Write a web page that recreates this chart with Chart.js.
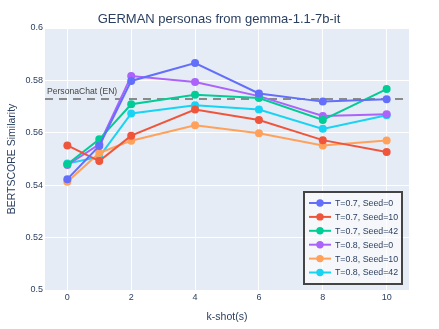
<!DOCTYPE html>
<html>
<head>
<meta charset="utf-8">
<script src="https://cdn.jsdelivr.net/npm/chart.js@4"></script>
<style>
  html, body { margin: 0; padding: 0; background: #fff; }
  #wrap { width: 439px; height: 329px; }
</style>
</head>
<body>
<div id="wrap"><canvas id="chart"></canvas></div>
<script>
// k-shot values on the x axis
const shots = [0, 1, 2, 4, 6, 8, 10];
const xTicks = [0, 2, 4, 6, 8, 10];
const yTicks = [0.5, 0.52, 0.54, 0.56, 0.58, 0.6];

const seriesNames = [
    'T=0.7, Seed=0', 'T=0.7, Seed=10', 'T=0.7, Seed=42',
    'T=0.8, Seed=0', 'T=0.8, Seed=10', 'T=0.8, Seed=42'
];
const t07seed0  = [0.5423, 0.5550, 0.5798, 0.5866, 0.5750, 0.5719, 0.5728];
const t07seed10 = [0.5552, 0.5492, 0.5589, 0.5689, 0.5649, 0.5572, 0.5527];
const t07seed42 = [0.5480, 0.5575, 0.5709, 0.5745, 0.5733, 0.5649, 0.5767];
const t08seed0  = [0.5477, 0.5556, 0.5817, 0.5794, 0.5740, 0.5664, 0.5671];
const t08seed10 = [0.5413, 0.5523, 0.5570, 0.5629, 0.5598, 0.5552, 0.5571];
const t08seed42 = [0.5483, 0.5508, 0.5674, 0.5705, 0.5689, 0.5615, 0.5667];

const baselineLabel = 'PersonaChat (EN)';
const baselineValue = 0.5729;

const colors = ['#636efa', '#EF553B', '#00cc96', '#ab63fa', '#FFA15A', '#19d3f3'];
const allSeries = [t07seed0, t07seed10, t07seed42, t08seed0, t08seed10, t08seed42];

const FONT = '"Liberation Sans", Arial, sans-serif';
const TEXT = '#2a3f5f';

const datasets = allSeries.map((vals, i) => ({
    label: seriesNames[i],
    data: shots.map((x, j) => ({ x: x, y: vals[j] })),
    borderColor: colors[i],
    backgroundColor: colors[i],
    borderWidth: 2,
    pointRadius: 4,
    pointHoverRadius: 4,
    pointBorderWidth: 0,
    tension: 0
}));

const plotBackground = {
    id: 'plotBackground',
    beforeDraw(chart) {
        const { ctx, chartArea: a } = chart;
        ctx.save();
        ctx.fillStyle = '#e5ecf6';
        ctx.fillRect(a.left, a.top, a.right - a.left, a.bottom - a.top);
        ctx.restore();
    }
};

const baseline = {
    id: 'baseline',
    beforeDatasetsDraw(chart) {
        const { ctx, chartArea: a, scales } = chart;
        const y = scales.y.getPixelForValue(baselineValue);
        ctx.save();
        ctx.strokeStyle = 'rgba(128,128,128,0.9)';
        ctx.lineWidth = 2;
        ctx.setLineDash([8, 6]);
        ctx.beginPath();
        ctx.moveTo(a.left, y);
        ctx.lineTo(a.right, y);
        ctx.stroke();
        ctx.setLineDash([]);
        ctx.fillStyle = '#444';
        ctx.font = '8.6px ' + FONT;
        ctx.textBaseline = 'bottom';
        ctx.fillText(baselineLabel, a.left + 2, y - 3);
        ctx.restore();
    }
};

const titleAndLegend = {
    id: 'titleAndLegend',
    afterDraw(chart) {
        const { ctx, chartArea: a } = chart;
        ctx.save();
        ctx.fillStyle = TEXT;
        ctx.font = '13px ' + FONT;
        ctx.textAlign = 'center';
        ctx.textBaseline = 'middle';
        ctx.fillText('GERMAN personas from gemma-1.1-7b-it', 219, 19);

        // legend box inside the plot, bottom right
        const bx = 304, by = 192, bw = 98, bh = 92;
        ctx.fillStyle = 'rgba(255,255,255,0.6)';
        ctx.fillRect(bx, by, bw, bh);
        ctx.strokeStyle = '#444';
        ctx.lineWidth = 2;
        ctx.strokeRect(bx, by, bw, bh);
        ctx.textAlign = 'left';
        ctx.font = '8.8px ' + FONT;
        chart.data.datasets.forEach((ds, i) => {
            const ry = by + 11 + i * 13.9;
            ctx.strokeStyle = ds.borderColor;
            ctx.lineWidth = 2;
            ctx.beginPath();
            ctx.moveTo(bx + 5, ry);
            ctx.lineTo(bx + 27, ry);
            ctx.stroke();
            ctx.fillStyle = ds.backgroundColor;
            ctx.beginPath();
            ctx.arc(bx + 16, ry, 3.7, 0, Math.PI * 2);
            ctx.fill();
            ctx.fillStyle = TEXT;
            ctx.fillText(ds.label, bx + 31, ry + 0.5);
        });
        ctx.restore();
    }
};

new Chart(document.getElementById('chart').getContext('2d'), {
    type: 'line',
    data: { datasets: datasets },
    plugins: [plotBackground, baseline, titleAndLegend],
    options: {
        responsive: true,
        maintainAspectRatio: false,
        animation: false,
        layout: { padding: { top: 28, right: 30, left: 6, bottom: 6 } },
        plugins: {
            legend: { display: false },
            title: { display: false },
            tooltip: { enabled: false }
        },
        scales: {
            x: {
                type: 'linear',
                min: -0.7,
                max: 10.7,
                afterBuildTicks: s => { s.ticks = xTicks.map(v => ({ value: v })); },
                afterFit: s => { s.height = 33; },
                grid: { color: '#ffffff', lineWidth: 1, drawTicks: false },
                border: { display: false },
                ticks: { color: TEXT, font: { size: 9, family: FONT }, padding: 2, maxRotation: 0 },
                title: { display: true, text: 'k-shot(s)', color: TEXT, font: { size: 10.5, family: FONT }, padding: { top: 3, bottom: 0 } }
            },
            y: {
                min: 0.5,
                max: 0.6,
                afterBuildTicks: s => { s.ticks = yTicks.map(v => ({ value: v })); },
                afterFit: s => { s.width = 39; },
                grid: { color: '#ffffff', lineWidth: 1, drawTicks: false },
                border: { display: false },
                ticks: {
                    color: TEXT, font: { size: 9, family: FONT }, padding: 2,
                    callback: v => String(+v.toFixed(2))
                },
                title: { display: true, text: 'BERTSCORE Similarity', color: TEXT, font: { size: 10.5, family: FONT }, padding: { top: 0, bottom: 2 } }
            }
        }
    }
});
</script>
</body>
</html>
